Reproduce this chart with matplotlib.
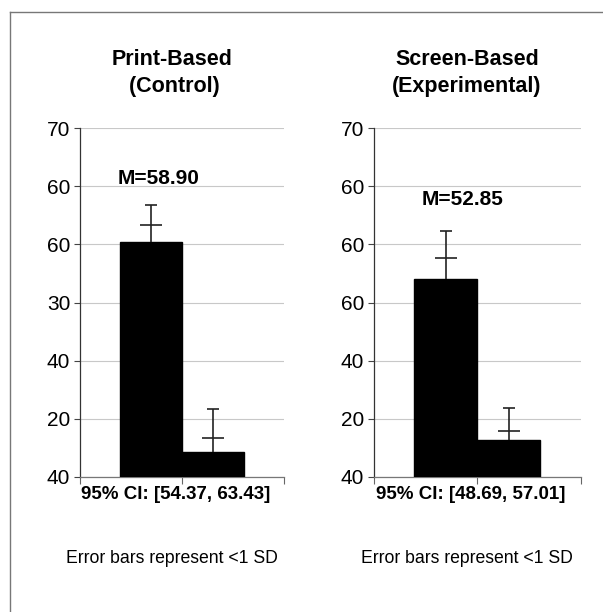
import matplotlib.pyplot as plt
from matplotlib.lines import Line2D
import numpy as np

plt.rcParams['font.family'] = ['Liberation Sans', 'DejaVu Sans']

# Data (y scale 10..70, labels as printed)
titles = ["Print-Based\n (Control)", "Screen-Based\n(Experimental)"]
bar_tops = [[50.4, 14.2], [44.1, 16.3]]
crossbars = [[53.3, 16.7], [47.6, 17.9]]
whisker_tops = [[56.8, 21.6], [52.3, 21.9]]
means = ["M=58.90", "M=52.85"]
mean_label_y = [61.4, 57.8]
mean_label_x = [0.27, 0.36]
cis = ["95% CI: [54.37, 63.43]", "95% CI: [48.69, 57.01]"]
ytick_vals = [10, 20, 30, 40, 50, 60, 70]
ytick_labels = [["40", "20", "40", "30", "60", "60", "70"],
                ["40", "20", "40", "60", "60", "60", "70"]]
note = "Error bars represent <1 SD"

fig = plt.figure(figsize=(6.03, 6.12), dpi=100)
axes = [fig.add_axes([80 / 603, 1 - 476.7 / 612, 204 / 603, 348.4 / 612]),
        fig.add_axes([374 / 603, 1 - 476.7 / 612, 206.7 / 603, 348.4 / 612])]

width = 0.61
for i, ax in enumerate(axes):
    x = 0.5 + np.array([-width / 2, width / 2])
    ax.bar(x, bar_tops[i], width=width, color='black', edgecolor='black', zorder=3)
    tops = np.array(bar_tops[i])
    # whisker from bar top up, cap only at the top end
    ax.vlines(x, tops, whisker_tops[i], color='#222222', linewidth=1.2, zorder=4)
    ax.plot(x, whisker_tops[i], linestyle='none', marker='_', markersize=8,
            markeredgewidth=1.2, color='#222222', zorder=4)
    ax.plot(x, crossbars[i], linestyle='none', marker='_', markersize=16,
            markeredgewidth=1.2, color='#222222', zorder=4)

    ax.set_ylim(10, 70)
    ax.set_xlim(-0.5, 1.5)
    ax.set_yticks(ytick_vals)
    ax.set_yticklabels(ytick_labels[i], fontsize=15)
    ax.set_xticks([-0.5, 0.5, 1.5])
    ax.set_xticklabels([])
    ax.tick_params(axis='y', length=4, width=0.8, color='#444444', pad=3)
    ax.tick_params(axis='x', length=5, width=0.8, color='#666666')
    ax.grid(axis='y', color='#c8c8c8', linewidth=0.8, zorder=0)
    for s in ['top', 'right']:
        ax.spines[s].set_visible(False)
    ax.spines['left'].set_color('#333333')
    ax.spines['bottom'].set_color('#777777')
    ax.spines['left'].set_linewidth(0.9)
    ax.spines['bottom'].set_linewidth(0.9)

    ax.set_title(titles[i], fontsize=15.5, fontweight='bold', pad=26,
                 x=0.45, linespacing=1.4)
    ax.text(mean_label_x[i], mean_label_y[i], means[i], ha='center', va='center',
            fontsize=15, fontweight='bold')
    ax.text(0.47, -0.05, cis[i], transform=ax.transAxes, ha='center',
            va='center', fontsize=13.5, fontweight='bold')
    ax.text(0.45, -0.235, note, transform=ax.transAxes, ha='center',
            va='center', fontsize=12.7)

# thin frame along top and left
fig.add_artist(Line2D([10 / 603, 10 / 603], [0, 1 - 12 / 612], color='#777777', lw=1))
fig.add_artist(Line2D([10 / 603, 1], [1 - 12 / 612, 1 - 12 / 612], color='#777777', lw=1))

plt.savefig("out.png", dpi=100)
